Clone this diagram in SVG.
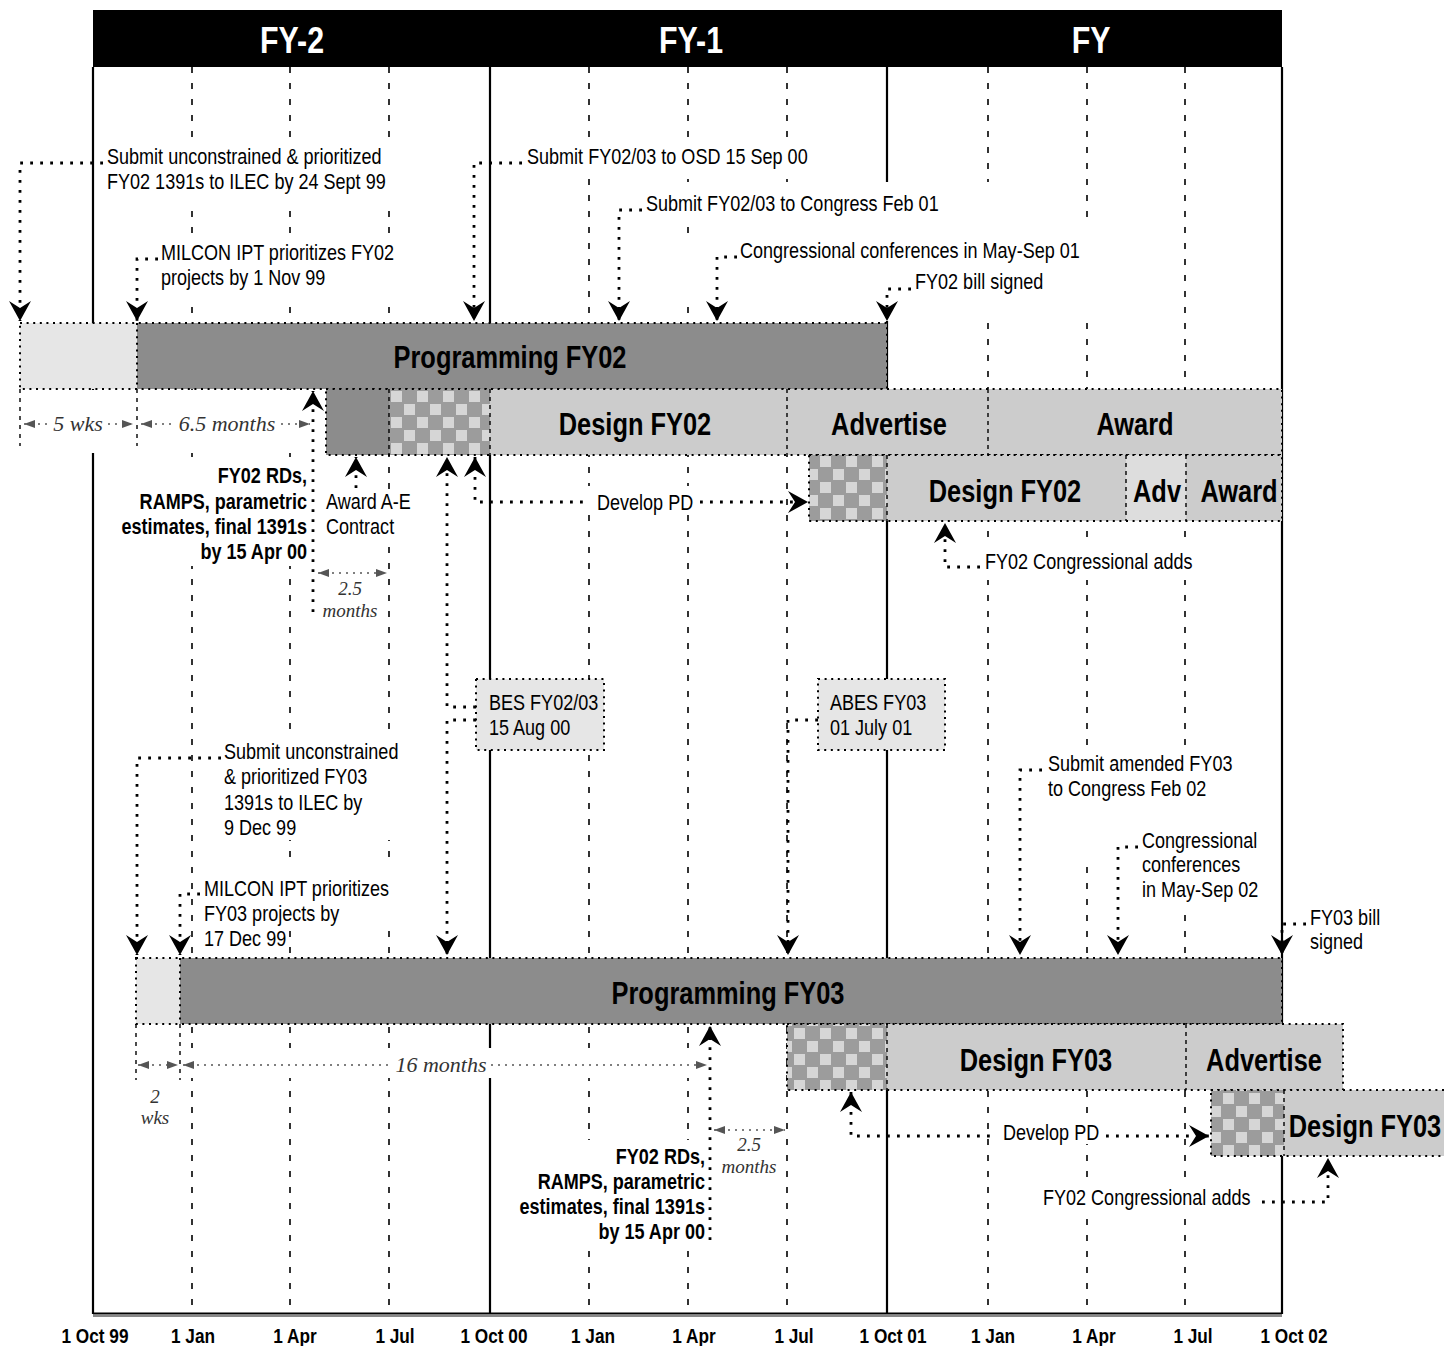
<svg xmlns="http://www.w3.org/2000/svg" width="1444" height="1346" viewBox="0 0 1444 1346">
  <defs>
    <style>
      .grid { fill:none; stroke:#000; stroke-width:1.6; stroke-dasharray:6 10; }
      .yr { fill:none; stroke:#000; stroke-width:2.2; }
      .mask { fill:#fff; }
      .bd { fill:none; stroke:#000; stroke-width:2; stroke-dasharray:2 4.6; }
      .sep { fill:none; stroke:#000; stroke-width:1.4; stroke-dasharray:4 4; }
      .con { fill:none; stroke:#000; stroke-width:2.8; stroke-dasharray:2.8 7.2; }
      .dimln { fill:none; stroke:#555; stroke-width:1.6; stroke-dasharray:2 5; }
      .ext { fill:none; stroke:#000; stroke-width:1.4; stroke-dasharray:4 5; }
      .dark { fill:#8c8c8c; }
      .pale { fill:#e6e6e6; }
      .mid { fill:#cccccc; }
      .adv { fill:#dddddd; }
      .chk { fill:url(#checker); }
      /* narrow sans: Arial metrics compressed to the width of a condensed face */
      .t, .tb, .bar, .hdr, .ax {
        font-family:"Liberation Sans",Arial,"DejaVu Sans",sans-serif;
        transform-box:fill-box; transform:scaleX(0.82);
      }
      .t { font-size:22px; fill:#000; transform-origin:left center; }
      .tb { font-size:22px; font-weight:bold; fill:#000; transform-origin:left center; }
      .tb.end { text-anchor:end; transform-origin:right center; }
      .bar { font-size:31px; font-weight:bold; fill:#000; text-anchor:middle; transform-origin:center; }
      .hdr { font-size:37px; font-weight:bold; fill:#fff; text-anchor:middle; transform-origin:center; }
      .ax { font-size:21px; font-weight:bold; fill:#000; text-anchor:middle; transform-origin:center; }
      .dim { font-family:"Liberation Serif","Times New Roman",serif; font-size:22px; font-style:italic; fill:#333; text-anchor:middle; }
      .dim.sm { font-size:19px; }
    </style>
    <pattern id="checker" patternUnits="userSpaceOnUse" width="26" height="26">
      <rect width="26" height="26" fill="#9c9c9c"/>
      <rect x="1" y="1" width="11" height="11" fill="#d6d6d6"/>
      <rect x="14" y="14" width="11" height="11" fill="#d6d6d6"/>
    </pattern>
    <marker id="ah" markerUnits="userSpaceOnUse" viewBox="-21 -12 22 24" refX="0" refY="0" markerWidth="22" markerHeight="24" orient="auto-start-reverse" overflow="visible">
      <path d="M0,0 L-20,-11 L-13,0 L-20,11 Z" fill="#000"/>
    </marker>
    <marker id="da" markerUnits="userSpaceOnUse" viewBox="-12 -5 13 10" refX="0" refY="0" markerWidth="13" markerHeight="10" orient="auto-start-reverse" overflow="visible">
      <path d="M0,0 L-11,-4 L-11,4 Z" fill="#555"/>
    </marker>
  </defs>

  <rect width="1444" height="1346" fill="#fff"/>

  <!-- time grid: quarter lines and fiscal-year boundaries -->
  <g id="grid">
    <path class="grid" d="M192,67V1312 M290,67V1312 M389,67V1312 M589,67V1312 M688,67V1312 M787,67V1312 M988,67V1312 M1087,67V1312 M1185,67V1312"/>
    <path class="yr" d="M93,67V1314 M490,67V1314 M887,67V1314 M1282,67V1314"/>
  </g>

  <!-- white backing behind labels so grid lines break around them -->
  <g id="label-backing">
    <rect class="mask" x="100" y="140" width="295" height="65"/>
    <rect class="mask" x="150" y="234" width="245" height="68"/>
    <rect class="mask" x="520" y="140" width="292" height="32"/>
    <rect class="mask" x="640" y="182" width="360" height="40"/>
    <rect class="mask" x="735" y="222" width="365" height="99"/>
    <rect class="mask" x="640" y="237" width="95" height="65"/>
    <rect class="mask" x="15" y="390" width="301" height="63"/>
    <rect class="mask" x="118" y="458" width="192" height="108"/>
    <rect class="mask" x="322" y="490" width="90" height="48"/>
    <rect class="mask" x="587" y="486" width="113" height="22"/>
    <rect class="mask" x="975" y="543" width="220" height="37"/>
    <rect class="mask" x="218" y="738" width="182" height="102"/>
    <rect class="mask" x="200" y="858" width="195" height="72"/>
    <rect class="mask" x="1044" y="748" width="191" height="57"/>
    <rect class="mask" x="1080" y="805" width="182" height="53"/>
    <rect class="mask" x="1135" y="858" width="127" height="56"/>
    <rect class="mask" x="130" y="1048" width="585" height="30"/>
    <rect class="mask" x="516" y="1140" width="192" height="106"/>
    <rect class="mask" x="998" y="1118" width="108" height="26"/>
    <rect class="mask" x="1038" y="1183" width="218" height="30"/>
  </g>

  <!-- header band and time axis -->
  <g id="header">
    <rect x="93" y="10" width="1189" height="57" fill="#000"/>
    <text class="hdr" x="292" y="53">FY-2</text>
    <text class="hdr" x="691" y="53">FY-1</text>
    <text class="hdr" x="1091" y="53">FY</text>
  </g>
  <g id="axis">
    <line x1="93" y1="1313.5" x2="1282" y2="1313.5" stroke="#000" stroke-width="2"/>
    <line x1="93" y1="1316" x2="1282" y2="1316" stroke="#888" stroke-width="2"/>
    <text class="ax" x="95" y="1343">1 Oct 99</text>
    <text class="ax" x="193" y="1343">1 Jan</text>
    <text class="ax" x="295" y="1343">1 Apr</text>
    <text class="ax" x="395" y="1343">1 Jul</text>
    <text class="ax" x="494" y="1343">1 Oct 00</text>
    <text class="ax" x="593" y="1343">1 Jan</text>
    <text class="ax" x="694" y="1343">1 Apr</text>
    <text class="ax" x="794" y="1343">1 Jul</text>
    <text class="ax" x="893" y="1343">1 Oct 01</text>
    <text class="ax" x="993" y="1343">1 Jan</text>
    <text class="ax" x="1094" y="1343">1 Apr</text>
    <text class="ax" x="1193" y="1343">1 Jul</text>
    <text class="ax" x="1294" y="1343">1 Oct 02</text>
  </g>

  <!-- FY02 programming bar -->
  <g id="programming-fy02">
    <rect class="pale" x="20" y="323" width="117" height="66"/>
    <rect class="dark" x="137" y="323" width="750" height="66"/>
    <rect class="bd" x="20" y="323" width="867" height="66"/>
    <path class="bd" d="M137,323V389"/>
    <text class="bar" x="510" y="368">Programming FY02</text>
  </g>

  <!-- FY02 design / advertise / award row -->
  <g id="design-fy02">
    <rect class="dark" x="326" y="389" width="63" height="66"/>
    <rect class="chk" x="389" y="389" width="101" height="66"/>
    <rect class="mid" x="490" y="389" width="792" height="66"/>
    <rect class="bd" x="326" y="389" width="956" height="66"/>
    <path class="sep" d="M389,389V455 M490,389V455 M787,389V455 M988,389V455"/>
    <text class="bar" x="635" y="435">Design FY02</text>
    <text class="bar" x="889" y="435">Advertise</text>
    <text class="bar" x="1135" y="435">Award</text>
  </g>

  <!-- FY02 congressional adds row -->
  <g id="design-fy02-adds">
    <rect class="chk" x="809" y="455" width="78" height="66"/>
    <rect class="mid" x="887" y="455" width="239" height="66"/>
    <rect class="adv" x="1126" y="455" width="60" height="66"/>
    <rect class="mid" x="1186" y="455" width="96" height="66"/>
    <rect class="bd" x="809" y="455" width="473" height="66"/>
    <path class="sep" d="M887,455V521 M1126,455V521 M1186,455V521"/>
    <text class="bar" x="1005" y="502">Design FY02</text>
    <text class="bar" x="1157" y="502">Adv</text>
    <text class="bar" x="1239" y="502">Award</text>
  </g>

  <!-- budget estimate submission boxes -->
  <g id="bes-fy0203">
    <rect class="pale" x="476" y="679" width="128" height="71"/>
    <rect class="bd" x="476" y="679" width="128" height="71"/>
    <text class="t" x="489" y="710">BES FY02/03</text>
    <text class="t" x="489" y="735">15 Aug 00</text>
  </g>
  <g id="abes-fy03">
    <rect class="pale" x="818" y="679" width="127" height="71"/>
    <rect class="bd" x="818" y="679" width="127" height="71"/>
    <text class="t" x="830" y="710">ABES FY03</text>
    <text class="t" x="830" y="735">01 July 01</text>
  </g>

  <!-- FY03 programming bar -->
  <g id="programming-fy03">
    <rect class="pale" x="136" y="958" width="44" height="66"/>
    <rect class="dark" x="180" y="958" width="1102" height="66"/>
    <rect class="bd" x="136" y="958" width="1146" height="66"/>
    <path class="bd" d="M180,958V1024"/>
    <text class="bar" x="728" y="1004">Programming FY03</text>
  </g>

  <!-- FY03 design / advertise row -->
  <g id="design-fy03">
    <rect class="chk" x="787" y="1024" width="100" height="66"/>
    <rect class="mid" x="887" y="1024" width="456" height="66"/>
    <rect class="bd" x="787" y="1024" width="556" height="66"/>
    <path class="sep" d="M887,1024V1090 M1186,1024V1090"/>
    <text class="bar" x="1036" y="1071">Design FY03</text>
    <text class="bar" x="1264" y="1071">Advertise</text>
  </g>

  <!-- FY03 congressional adds row -->
  <g id="design-fy03-adds">
    <rect class="chk" x="1211" y="1090" width="73" height="66"/>
    <rect class="mid" x="1284" y="1090" width="170" height="66"/>
    <rect class="bd" x="1211" y="1090" width="250" height="66"/>
    <path class="sep" d="M1284,1090V1156"/>
    <text class="bar" x="1365" y="1137">Design FY03</text>
  </g>

  <!-- milestone connectors -->
  <g id="connectors">
    <path class="con" d="M103,163H20V321" marker-end="url(#ah)"/>
    <path class="con" d="M158,259H137V321" marker-end="url(#ah)"/>
    <path class="con" d="M522,163H474V321" marker-end="url(#ah)"/>
    <path class="con" d="M642,210H619V321" marker-end="url(#ah)"/>
    <path class="con" d="M737,257H717V321" marker-end="url(#ah)"/>
    <path class="con" d="M911,289H887V321" marker-end="url(#ah)"/>
    <path class="con" d="M313,612V391" marker-end="url(#ah)"/>
    <path class="con" d="M356,488V457" marker-end="url(#ah)"/>
    <path class="con" d="M476,707H447V457" marker-end="url(#ah)"/>
    <path class="con" d="M476,720H447V955" marker-end="url(#ah)"/>
    <path class="con" d="M818,720H788V955" marker-end="url(#ah)"/>
    <path class="con" d="M475,457V502H588" marker-start="url(#ah)"/>
    <path class="con" d="M700,502H808" marker-end="url(#ah)"/>
    <path class="con" d="M980,567H945V523" marker-end="url(#ah)"/>
    <path class="con" d="M221,758H137V955" marker-end="url(#ah)"/>
    <path class="con" d="M200,894H180V955" marker-end="url(#ah)"/>
    <path class="con" d="M1042,770H1020V955" marker-end="url(#ah)"/>
    <path class="con" d="M1138,847H1118V955" marker-end="url(#ah)"/>
    <path class="con" d="M1306,924H1282V955" marker-end="url(#ah)"/>
    <path class="con" d="M710,1240V1026" marker-end="url(#ah)"/>
    <path class="con" d="M851,1092V1136H995" marker-start="url(#ah)"/>
    <path class="con" d="M1106,1136H1209" marker-end="url(#ah)"/>
    <path class="con" d="M1262,1202H1328V1158" marker-end="url(#ah)"/>
  </g>

  <!-- duration dimensions -->
  <g id="dimensions">
    <path class="ext" d="M20,389V446 M137,389V446 M136,1024V1080 M180,1024V1080"/>
    <path class="dimln" d="M24,424H133" marker-start="url(#da)" marker-end="url(#da)"/>
    <path class="dimln" d="M141,424H310" marker-start="url(#da)" marker-end="url(#da)"/>
    <path class="dimln" d="M318,573H387" marker-start="url(#da)" marker-end="url(#da)"/>
    <path class="dimln" d="M138,1065H178" marker-start="url(#da)" marker-end="url(#da)"/>
    <path class="dimln" d="M183,1065H707" marker-start="url(#da)" marker-end="url(#da)"/>
    <path class="dimln" d="M714,1130H785" marker-start="url(#da)" marker-end="url(#da)"/>
    <rect class="mask" x="49" y="412" width="58" height="24"/>
    <rect class="mask" x="175" y="412" width="104" height="24"/>
    <rect class="mask" x="393" y="1053" width="97" height="24"/>
    <text class="dim" x="78" y="431">5 wks</text>
    <text class="dim" x="227" y="431">6.5 months</text>
    <text class="dim sm" x="350" y="595">2.5</text>
    <text class="dim sm" x="350" y="617">months</text>
    <text class="dim sm" x="155" y="1103">2</text>
    <text class="dim sm" x="155" y="1124">wks</text>
    <text class="dim" x="441" y="1072">16 months</text>
    <text class="dim sm" x="749" y="1151">2.5</text>
    <text class="dim sm" x="749" y="1173">months</text>
  </g>

  <!-- milestone notes -->
  <g id="notes">
    <text class="t" x="107" y="164">Submit unconstrained &amp; prioritized</text>
    <text class="t" x="107" y="189">FY02 1391s to ILEC by 24 Sept 99</text>
    <text class="t" x="161" y="260">MILCON IPT prioritizes FY02</text>
    <text class="t" x="161" y="285">projects by 1 Nov 99</text>
    <text class="t" x="527" y="164">Submit FY02/03 to OSD 15 Sep 00</text>
    <text class="t" x="646" y="211">Submit FY02/03 to Congress Feb 01</text>
    <text class="t" x="740" y="258">Congressional conferences in May-Sep 01</text>
    <text class="t" x="915" y="289">FY02 bill signed</text>

    <text class="tb end" x="307" y="483">FY02 RDs,</text>
    <text class="tb end" x="307" y="509">RAMPS, parametric</text>
    <text class="tb end" x="307" y="534">estimates, final 1391s</text>
    <text class="tb end" x="307" y="559">by 15 Apr 00</text>
    <text class="t" x="326" y="509">Award A-E</text>
    <text class="t" x="326" y="534">Contract</text>
    <text class="t" x="597" y="510">Develop PD</text>
    <text class="t" x="985" y="569">FY02 Congressional adds</text>

    <text class="t" x="224" y="759">Submit unconstrained</text>
    <text class="t" x="224" y="784">&amp; prioritized FY03</text>
    <text class="t" x="224" y="810">1391s to ILEC by</text>
    <text class="t" x="224" y="835">9 Dec 99</text>
    <text class="t" x="204" y="896">MILCON IPT prioritizes</text>
    <text class="t" x="204" y="921">FY03 projects by</text>
    <text class="t" x="204" y="946">17 Dec 99</text>
    <text class="t" x="1048" y="771">Submit amended FY03</text>
    <text class="t" x="1048" y="796">to Congress Feb 02</text>
    <text class="t" x="1142" y="848">Congressional</text>
    <text class="t" x="1142" y="872">conferences</text>
    <text class="t" x="1142" y="897">in May-Sep 02</text>
    <text class="t" x="1310" y="925">FY03 bill</text>
    <text class="t" x="1310" y="949">signed</text>

    <text class="tb end" x="705" y="1164">FY02 RDs,</text>
    <text class="tb end" x="705" y="1189">RAMPS, parametric</text>
    <text class="tb end" x="705" y="1214">estimates, final 1391s</text>
    <text class="tb end" x="705" y="1239">by 15 Apr 00</text>
    <text class="t" x="1003" y="1140">Develop PD</text>
    <text class="t" x="1043" y="1205">FY02 Congressional adds</text>
  </g>
</svg>
